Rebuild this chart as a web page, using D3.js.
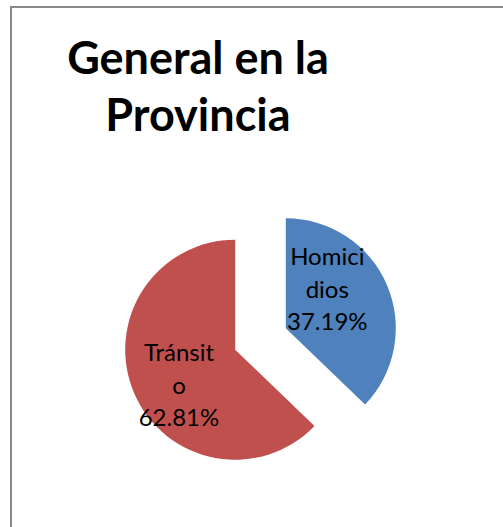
<!DOCTYPE html>
<html>
<head>
<meta charset="utf-8">
<script src="https://cdn.jsdelivr.net/npm/d3@7"></script>
<style>
  html, body { margin: 0; padding: 0; background: #fff; }
  svg { display: block; }
</style>
</head>
<body>
<svg id="chart" width="503" height="527"></svg>
<script>
// Data
const titleLines = ["General en la", "Provincia"];
const categories = ["Homicidios", "Tránsito"];
const labelLines = [["Homici", "dios"], ["Tránsit", "o"]];
const values = [37.19, 62.81];
const colors = ["#4F81BD", "#C0504D"];

const svg = d3.select("#chart");

// Chart frame (only the top and left edges fall inside the view)
svg.append("rect")
  .attr("x", 11).attr("y", 7)
  .attr("width", 600).attr("height", 600)
  .attr("fill", "none")
  .attr("stroke", "#8a8a8a")
  .attr("stroke-width", 2);

// Title
const title = svg.append("text")
  .attr("text-anchor", "middle")
  .attr("font-family", "Lato, sans-serif")
  .attr("font-weight", "bold")
  .attr("font-size", 45)
  .attr("fill", "#000");
titleLines.forEach((t, i) => {
  title.append("tspan").attr("x", 198).attr("y", 74 + i * 57).text(t);
});

// Pie layout
const cx = 260.5, cy = 339, radius = 110, explode = 27.5;
const pie = d3.pie().sort(null).value(d => d.value).startAngle(0);
const arcs = pie(categories.map((c, i) => ({ name: c, value: values[i], i })));
const arc = d3.arc().innerRadius(0).outerRadius(radius);

const g = svg.append("g").attr("transform", `translate(${cx},${cy})`);

// label placement along each slice: fraction of the sweep and distance from the centre
const labelFrac = [0.40, 0.47];
const labelDist = [83, 94];

const slice = g.selectAll("g.slice").data(arcs).enter().append("g")
  .attr("class", "slice")
  .attr("transform", d => {
    const mid = (d.startAngle + d.endAngle) / 2;
    return `translate(${explode * Math.sin(mid)},${-explode * Math.cos(mid)})`;
  });

slice.append("path")
  .attr("d", arc)
  .attr("fill", d => colors[d.data.i]);

g.selectAll("text.lbl").data(arcs).enter().append("text")
  .attr("class", "lbl")
  .attr("text-anchor", "middle")
  .attr("font-family", "Lato, sans-serif")
  .attr("font-size", 24)
  .attr("fill", "#000")
  .each(function (d) {
    const i = d.data.i;
    const a = d.startAngle + (d.endAngle - d.startAngle) * labelFrac[i];
    const x = labelDist[i] * Math.sin(a);
    const y = -labelDist[i] * Math.cos(a);
    const lines = labelLines[i].concat([d3.format(".2f")(d.data.value) + "%"]);
    const lh = 32.5;
    const t = d3.select(this);
    lines.forEach((ln, k) => {
      t.append("tspan")
        .attr("x", x)
        .attr("y", y + 8 + (k - 1) * lh)
        .text(ln);
    });
  });
</script>
</body>
</html>
